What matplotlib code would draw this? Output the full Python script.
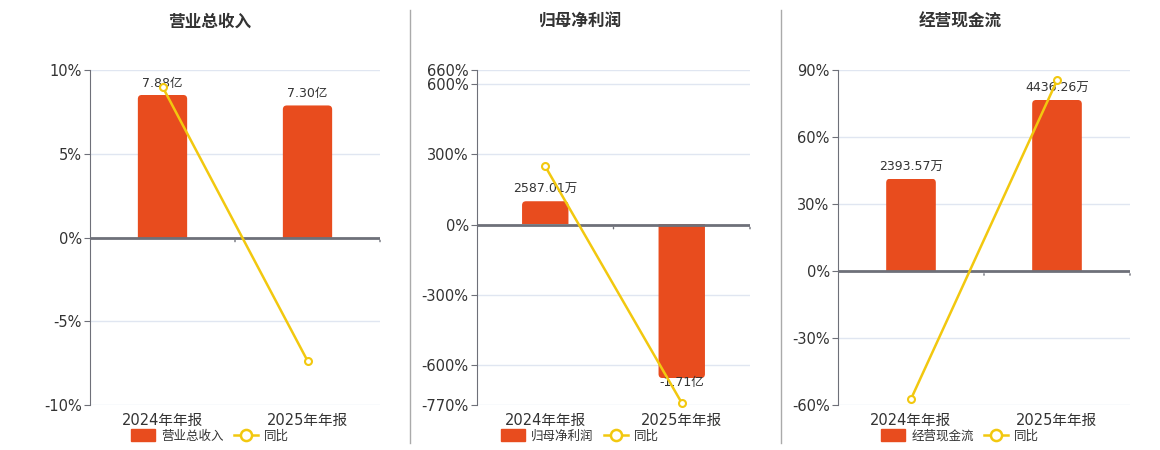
import numpy as np
import matplotlib
matplotlib.use("Agg")
import matplotlib.pyplot as plt
from matplotlib.patches import Patch, FancyBboxPatch, Rectangle
from matplotlib.lines import Line2D

plt.rcParams['font.family'] = ['DejaVu Sans', 'Noto Sans CJK SC']

# 数据
periods = ['2024年年报', '2025年年报']
titles = ['营业总收入', '归母净利润', '经营现金流']

revenue = [7.88, 7.30]            # 亿
revenue_labels = ['7.88亿', '7.30亿']
revenue_yoy = [9.0, -7.36]        # %

profit = [2587.01, -17100.0]      # 万
profit_labels = ['2587.01万', '-1.71亿']
profit_yoy = [248.6, -761.0]      # %

cash = [2393.57, 4436.26]         # 万
cash_labels = ['2393.57万', '4436.26万']
cash_yoy = [-57.3, 85.3]          # %

# 左轴范围/刻度
pct_limits = [(-10, 10), (-770, 660), (-60, 90)]
pct_ticks = [[-10, -5, 0, 5, 10],
             [-770, -600, -300, 0, 300, 600, 660],
             [-60, -30, 0, 30, 60, 90]]
# 柱状图隐藏轴范围（与左轴 0 对齐）
bar_limits = [(-9.26, 9.26), (-20100, 17200), (-3476, 5214)]

BAR = '#E84C1E'
LINE = '#F2C80F'
AXIS = '#6E7079'
GRID = '#E0E6F1'
TXT = '#333333'

W, H = 1160, 450
fig = plt.figure(figsize=(W / 100, H / 100), dpi=100)

# 坐标区位置 (像素)
boxes = [(90, 380), (477, 750), (838, 1130)]
centers = [210, 580, 960]
AX_BOTTOM, AX_H = 45, 335

series = [(revenue, revenue_labels, revenue_yoy),
          (profit, profit_labels, profit_yoy),
          (cash, cash_labels, cash_yoy)]

x = np.arange(len(periods))
BAR_W = 0.34
RADIUS_PX = 4

for i, (vals, labels, yoy) in enumerate(series):
    l, r = boxes[i]
    ax = fig.add_axes([l / W, AX_BOTTOM / H, (r - l) / W, AX_H / H])
    ax2 = ax.twinx()   # 柱
    ax3 = ax.twinx()   # 折线

    ax.set_xlim(-0.5, 1.5)
    ax.set_ylim(*pct_limits[i])
    ax3.set_ylim(*pct_limits[i])
    ax2.set_ylim(*bar_limits[i])
    ax2.axis('off')
    ax3.axis('off')

    # 网格
    for t in pct_ticks[i]:
        if t != 0:
            ax.axhline(t, color=GRID, lw=1, zorder=0)

    # 柱（圆角顶部）
    x_per_px = 2.0 / (r - l)
    y_span = bar_limits[i][1] - bar_limits[i][0]
    y_per_px = y_span / AX_H
    rad = RADIUS_PX * x_per_px
    aspect = y_per_px / x_per_px
    for xi, v, lab in zip(x, vals, labels):
        x0 = xi - BAR_W / 2
        ext = RADIUS_PX * y_per_px * 1.5
        if v >= 0:
            y0, hgt = -ext, v + ext
        else:
            y0, hgt = v, -v + ext
        p = FancyBboxPatch((x0, y0), BAR_W, hgt,
                           boxstyle=f'round,pad=0,rounding_size={rad}',
                           mutation_aspect=aspect, facecolor=BAR,
                           edgecolor='none', zorder=2)
        ax2.add_patch(p)
        clip = Rectangle((x0 - 0.01, min(0, v)), BAR_W + 0.02, abs(v),
                         transform=ax2.transData)
        p.set_clip_path(clip)
        if v >= 0:
            ax2.text(xi, v + y_span * 0.015, lab,
                     ha='center', va='bottom', fontsize=9, color=TXT)
        else:
            ax2.text(xi, v + y_span * 0.006, lab,
                     ha='center', va='top', fontsize=9, color=TXT)

    # 零轴
    ax3.axhline(0, color=AXIS, lw=2, zorder=3)
    for bx in [0.5, 1.5]:
        ax3.annotate('', xy=(bx, 0), xytext=(0, -5), textcoords='offset points',
                     arrowprops=dict(arrowstyle='-', color=AXIS, lw=1))

    # 同比折线
    ax3.plot(x, yoy, color=LINE, lw=1.8, marker='o', markersize=5,
             markerfacecolor='white', markeredgecolor=LINE, markeredgewidth=1.5,
             zorder=5, clip_on=False)

    ax.set_yticks(pct_ticks[i])
    ax.set_yticklabels([f'{t}%' for t in pct_ticks[i]], fontsize=10.5, color=TXT)
    ax.set_xticks(x)
    ax.set_xticklabels(periods, fontsize=10.5, color=TXT)
    ax.tick_params(axis='x', length=0, pad=6)
    ax.tick_params(axis='y', length=4, color=AXIS, pad=2)

    for a in (ax, ax2, ax3):
        for s in ['top', 'right', 'bottom']:
            a.spines[s].set_visible(False)
    ax.spines['left'].set_color(AXIS)

    fig.text(centers[i] / W, 1 - 22 / H, titles[i], ha='center', va='center',
             fontsize=12, fontweight='bold', color=TXT)

    handles = [Patch(facecolor=BAR, edgecolor=BAR, label=titles[i]),
               Line2D([0], [0], color=LINE, lw=1.8, marker='o', markersize=8,
                      markerfacecolor='white', markeredgecolor=LINE,
                      markeredgewidth=1.8, label='同比')]
    fig.legend(handles=handles, loc='center', ncol=2, frameon=False,
               bbox_to_anchor=(centers[i] / W, 1 - 436 / H),
               fontsize=9, handlelength=1.9, handleheight=1.1,
               handletextpad=0.5, columnspacing=0.8, labelcolor=TXT)

# 分隔线
for xs in [410, 781]:
    fig.add_artist(Line2D([xs / W, xs / W], [1 - 443 / H, 1 - 10 / H],
                          color='#AAAAAA', lw=1))

fig.savefig('out.png', dpi=100)
